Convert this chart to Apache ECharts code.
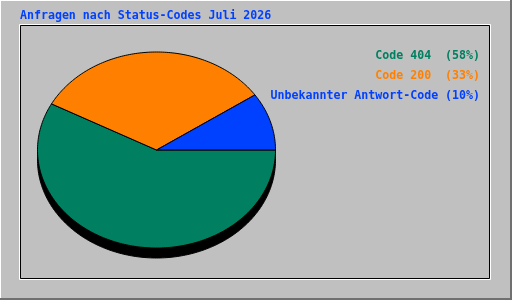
<!DOCTYPE html>
<html>
<head>
<meta charset="utf-8">
<script src="https://cdn.jsdelivr.net/npm/echarts@6/dist/echarts.min.js"></script>
<style>
html,body{margin:0;padding:0;background:#C0C0C0;}
#c{width:512px;height:300px;}
</style>
</head>
<body>
<div id="c"></div>
<script>
// ---- data ----
const titleText = 'Anfragen nach Status-Codes Juli 2026';
const categories = ['Code 404', 'Code 200', 'Unbekannter Antwort-Code'];
const values = [57.8, 32.7, 9.5];
const legendLabels = ['Code 404  (58%)', 'Code 200  (33%)', 'Unbekannter Antwort-Code (10%)'];
const colors = ['#008060', '#FF8000', '#0040FF'];

// ---- layout ----
const W = 512, H = 300;
const CX = 156.5, CY = 150, RX = 119, RY = 98, DEPTH = 10;
const FONT = '"DejaVu Sans Mono", "Liberation Mono", monospace';

const total = values.reduce((a, b) => a + b, 0);
const starts = [];
let acc = 0;
values.forEach(v => { starts.push(acc); acc += v; });

function arcPoints(a0, a1, cx, cy) {
  const pts = [];
  const n = Math.max(8, Math.ceil((a1 - a0) / (Math.PI / 180)));
  for (let k = 0; k <= n; k++) {
    const t = a0 + (a1 - a0) * k / n;
    pts.push([cx + RX * Math.cos(t), cy + RY * Math.sin(t)]);
  }
  return pts;
}

const chart = echarts.init(document.getElementById('c'), null, {renderer: 'canvas'});

const graphics = [
  // outer bevel
  {type: 'line', shape: {x1: 0, y1: 0.5, x2: W, y2: 0.5}, style: {stroke: '#FFFFFF', lineWidth: 1}, silent: true},
  {type: 'line', shape: {x1: 0.5, y1: 0, x2: 0.5, y2: H}, style: {stroke: '#FFFFFF', lineWidth: 1}, silent: true},
  {type: 'line', shape: {x1: 0, y1: H - 1, x2: W, y2: H - 1}, style: {stroke: '#707070', lineWidth: 2}, silent: true},
  {type: 'line', shape: {x1: W - 1, y1: 0, x2: W - 1, y2: H}, style: {stroke: '#707070', lineWidth: 2}, silent: true},
  // inner groove
  {type: 'rect', shape: {x: 19.5, y: 24.5, width: 471, height: 255}, style: {fill: 'none', stroke: '#FFFFFF', lineWidth: 1}, silent: true},
  {type: 'rect', shape: {x: 20.5, y: 25.5, width: 469, height: 253}, style: {fill: 'none', stroke: '#000000', lineWidth: 1}, silent: true}
];

legendLabels.forEach((txt, i) => {
  graphics.push({
    type: 'text',
    right: 32,
    top: 50 + i * 20,
    style: {
      text: txt,
      fill: colors[i],
      font: 'bold 11.6px ' + FONT,
      textAlign: 'right'
    },
    silent: true
  });
});

chart.setOption({
  animation: false,
  backgroundColor: '#C0C0C0',
  title: {
    text: titleText,
    left: 15,
    top: 5,
    textStyle: {
      color: '#0040FF',
      fontFamily: FONT,
      fontWeight: 'bold',
      fontSize: 11.6
    }
  },
  graphic: graphics,
  series: [
    {
      type: 'custom',
      name: 'shadow',
      coordinateSystem: 'none',
      silent: true,
      z: 1,
      data: [[0]],
      renderItem: function () {
        return {
          type: 'polygon',
          shape: {points: arcPoints(0, Math.PI * 2, CX, CY + DEPTH)},
          style: {fill: '#000000', stroke: '#000000', lineWidth: 1}
        };
      }
    },
    {
      type: 'custom',
      name: 'slices',
      coordinateSystem: 'none',
      silent: true,
      z: 2,
      data: values.map((v, i) => [i, v]),
      renderItem: function (params, api) {
        const i = api.value(0);
        const a0 = starts[i] / total * Math.PI * 2;
        const a1 = (starts[i] + values[i]) / total * Math.PI * 2;
        const pts = [[CX, CY]].concat(arcPoints(a0, a1, CX, CY));
        return {
          type: 'polygon',
          shape: {points: pts},
          style: {fill: colors[i], stroke: '#000000', lineWidth: 1}
        };
      }
    }
  ]
});
</script>
</body>
</html>
